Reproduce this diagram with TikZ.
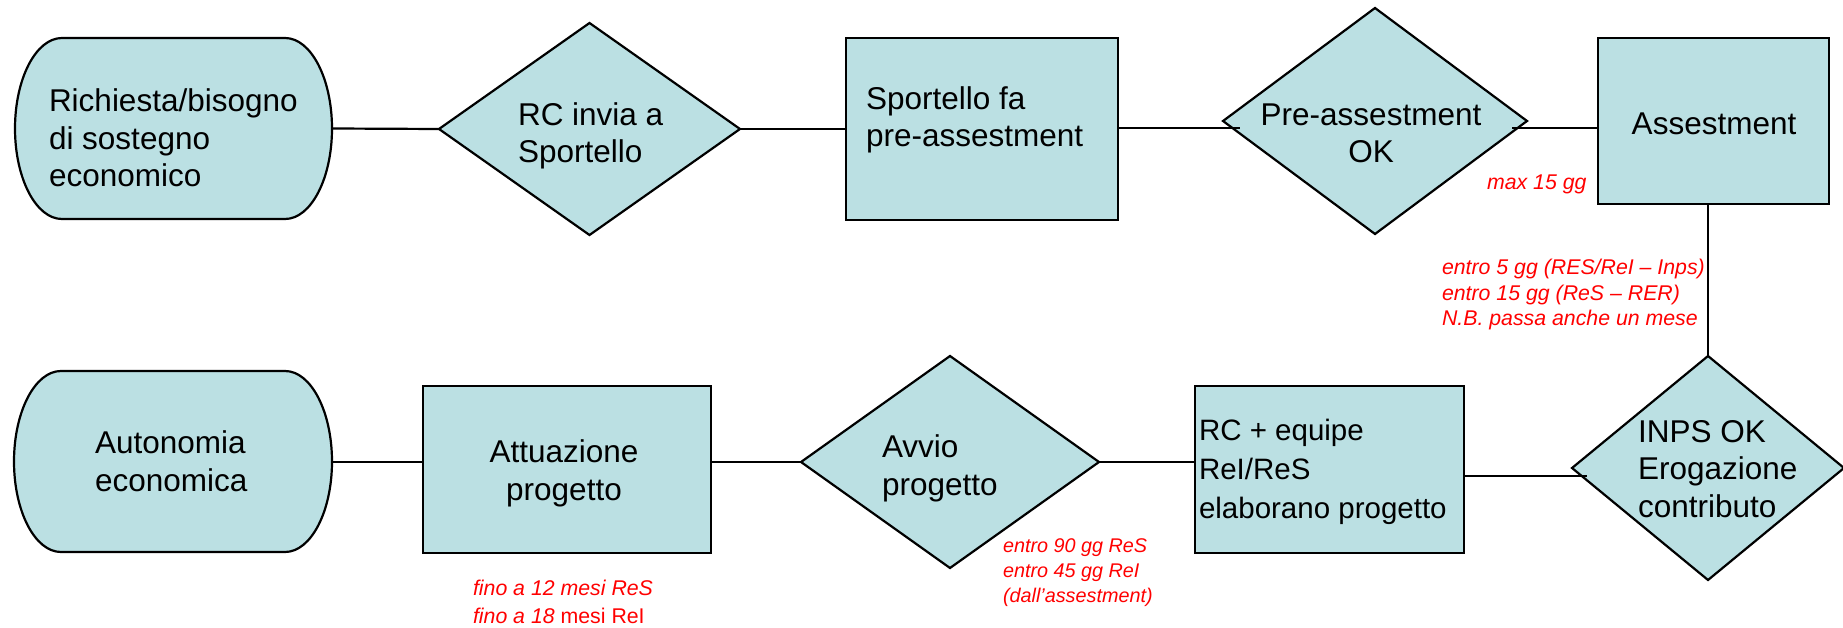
\documentclass[tikz,border=0pt]{standalone}
\usepackage{fontspec}
\setmainfont{Liberation Sans}
\usetikzlibrary{shapes.geometric,calc}
\definecolor{boxfill}{RGB}{187,224,227}
\definecolor{labred}{RGB}{255,0,0}
\begin{document}
\begin{tikzpicture}[x=1pt,y=1pt,
  shapeline/.style={draw=black,line width=2.2pt,fill=boxfill},
  diam/.style={shapeline,diamond,inner sep=0pt,outer sep=0pt},
  boxnode/.style={shapeline,rectangle,inner sep=0pt,outer sep=0pt},
  termnode/.style={rectangle,inner sep=0pt,outer sep=0pt},
  txt/.style={inner sep=0pt,outer sep=0pt,font=\fontsize{31.5}{37.5}\selectfont,text=black},
  smalltxt/.style={inner sep=0pt,outer sep=0pt,font=\fontsize{29.5}{39}\selectfont,text=black},
  lab/.style={inner sep=0pt,outer sep=0pt,font=\fontsize{21.3}{25.5}\selectfont\itshape,text=labred},
  conn/.style={draw=black,line width=2.2pt}]
\useasboundingbox (0,0) rectangle (1843,627);

% terminals
\draw[shapeline] (62,589) -- (285,589) arc[start angle=90,end angle=-90,x radius=47,y radius=90.5] -- (62,408) arc[start angle=270,end angle=90,x radius=47,y radius=90.5] -- cycle;
\node[termnode,minimum width=317pt,minimum height=181pt] (t1) at (173.5,498.5) {};
\draw[shapeline] (61,256) -- (285,256) arc[start angle=90,end angle=-90,x radius=47,y radius=90.5] -- (61,75) arc[start angle=270,end angle=90,x radius=47,y radius=90.5] -- cycle;
\node[termnode,minimum width=318pt,minimum height=181pt] (t2) at (173,165.5) {};

% top row
\node[diam,minimum width=301pt,minimum height=212pt] (d1) at (589.5,498) {};
\node[boxnode,minimum width=272pt,minimum height=182pt] (b1) at (982,498) {};
\node[diam,minimum width=304pt,minimum height=226pt] (d2) at (1375,506) {};
\node[boxnode,minimum width=231pt,minimum height=166pt] (b2) at (1713.5,506) {};

% bottom row
\node[diam,minimum width=272pt,minimum height=224pt] (d3) at (1708,159) {};
\node[boxnode,minimum width=269pt,minimum height=167pt] (b3) at (1329.5,157.5) {};
\node[diam,minimum width=298pt,minimum height=212pt] (d4) at (950,165) {};
\node[boxnode,minimum width=288pt,minimum height=167pt] (b4) at (567,157.5) {};

% connectors
\coordinate (ya) at (0,499);
\coordinate (yb) at (0,151);
\draw[conn] (t1.east) -- (d1.west);
\draw[conn] (d1.east) -- (d1.east -| b1.west);
\draw[conn] (b1.east |- ya) -- ($(d2.west |- ya)+(17,0)$);
\draw[conn] ($(d2.east |- ya)+(-15,0)$) -- (b2.west |- ya);
\draw[conn] (d3.north) -- (d3.north |- b2.south);
\draw[conn] (b3.east |- yb) -- ($(d3.west |- yb)+(15,0)$);
\draw[conn] (d4.east) -- (d4.east -| b3.west);
\draw[conn] (b4.east |- d4.west) -- (d4.west);
\draw[conn] (t2.east |- d4.west) -- (b4.west |- d4.west);

% texts (base anchor = baseline of last line)
\node[txt,align=left,anchor=base west] (t1txt) at (49,440) {Richiesta/bisogno\\di sostegno\\economico};
\node[txt,align=left,anchor=base west] (d1txt) at (518,464) {RC invia a\\Sportello};
\node[txt,align=left,anchor=base west] (b1txt) at (866,480) {Sportello fa\\pre-assestment};
\node[txt,align=center,anchor=base] (d2txt) at (1371,464) {Pre-assestment\\OK};
\node[txt,anchor=base] (b2txt) at (1714,492) {Assestment};
\node[txt,align=left,anchor=base west] (d3txt) at (1638,110) {INPS OK\\Erogazione\\contributo};
\node[smalltxt,align=left,anchor=base west] (b3txt) at (1199,109) {RC + equipe\\ReI/ReS\\elaborano progetto};
\node[txt,align=left,anchor=base west] (d4txt) at (882,132) {Avvio\\progetto};
\node[txt,align=center,anchor=base] (b4txt) at (564,127) {Attuazione\\progetto};
\node[txt,align=left,anchor=base west] (t2txt) at (95,136) {Autonomia\\economica};

% red labels
\node[lab,anchor=base west] (l1) at (1487,437) {max 15 gg};
\node[lab,align=left,anchor=base west] (l2) at (1442,301) {entro 5 gg (RES/ReI – Inps)\\entro 15 gg (ReS – RER)\\N.B. passa anche un mese};
\node[lab,align=left,anchor=base west,font=\fontsize{19.8}{25}\selectfont\itshape] (l3) at (1003,25) {entro 90 gg ReS\\entro 45 gg ReI\\(dall’assestment)};
\node[lab,align=left,anchor=base west,font=\fontsize{21.3}{27.5}\selectfont\itshape] (l4) at (473,4) {fino a 12 mesi ReS\\fino a 18 {\upshape mesi ReI}};
\end{tikzpicture}
\end{document}
